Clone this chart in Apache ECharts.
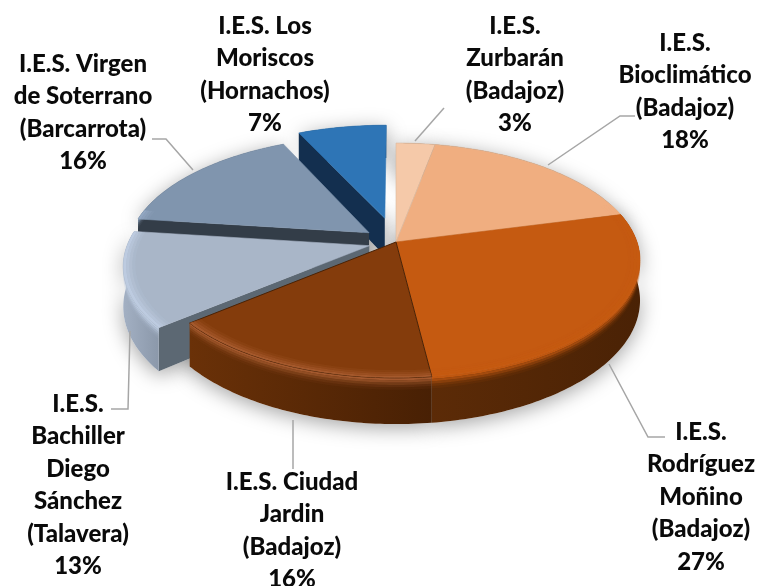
<!DOCTYPE html>
<html><head><meta charset="utf-8">
<style>html,body{margin:0;padding:0;background:#fff}#c{width:764px;height:586px}</style>
<script src="https://cdn.jsdelivr.net/npm/echarts@6/dist/echarts.min.js"></script>
</head><body><div id="c"></div>
<script>
var names = ['I.E.S.\nZurbarán\n(Badajoz)','I.E.S.\nBioclimático\n(Badajoz)','I.E.S.\nRodríguez\nMoñino\n(Badajoz)','I.E.S. Ciudad\nJardin\n(Badajoz)','I.E.S.\nBachiller\nDiego\nSánchez\n(Talavera)','I.E.S. Virgen\nde Soterrano\n(Barcarrota)','I.E.S. Los\nMoriscos\n(Hornachos)'];
var values = [3,18,27,16,13,16,7];
var explode = [0,0,0,0,0.115,0.14,0.22];
var topColors = ['#F5C9A9','#F0AE80','#C55A11','#843C0C','#A9B6C8','#8095AE','#2E75B6'];
var wallLeft = ['#8a5a33','#8a5a33','#5c2b07','#6a3108','#a3b0c3','#333D48','#132F4F'];
var wallRight = ['#7a4a28','#7a4a28','#4a2205','#482004','#8b98aa','#333D48','#132F4F'];
var faceColors = ['#8a6a50','#8a6a50','#4a2205','#4a2205','#5C6873','#333D48','#132F4F'];
var rimHighlight = ['#F5C9A9','#F0AE80','#C55A11','#A85C30','#BFCDE2','#94A9C3','#5a95cc'];
var drawOrder = [0,1,6,5,4,2,3];
var labelAnchors = [[515,10],[685,27],[701,416],[292,466],[78,388],[83,48],[265,10]];
var leaders = [
 [[415,141],[444,108]],
 [[548,165],[620,116],[635,116]],
 [[609,364],[648,437],[665,437]],
 [[293,420],[293,469]],
 [[130,331],[128,409],[111,409]],
 [[193,170],[166,139],[152,139]],
 []
];
var CX=396, CY=242, R=241, RY=114.5, K=0.157, H0=39;

var starts=[], acc=0, total=values.reduce(function(a,b){return a+b;},0);
values.forEach(function(v){starts.push(acc);acc+=v;});

function centerOf(i){
  var mid=(starts[i]+values[i]/2)/total*2*Math.PI;
  return [Math.sin(mid)*explode[i], -Math.cos(mid)*explode[i]];
}
function project(u,v,dy){
  var w=1-K*v;
  return [CX+R*u/w, CY+RY*v/w+(dy?dy/w:0)];
}
function pt(i,t,rs,dy){
  var c=centerOf(i);
  return project(c[0]+Math.sin(t)*rs, c[1]-Math.cos(t)*rs, dy);
}
function arc(i,a,b,rs,dy){
  var out=[],n=Math.max(2,Math.ceil(Math.abs(b-a)*60));
  for(var k=0;k<=n;k++){out.push(pt(i,a+(b-a)*k/n,rs,dy));}
  return out;
}
function renderSlice(params,api){
  var i=api.value(0);
  var a=starts[i]/total*2*Math.PI, b=(starts[i]+values[i])/total*2*Math.PI;
  var order=drawOrder.indexOf(i), base=10+order*10;
  var ch=[];
  var apex=pt(i,0,0,0), apexB=pt(i,0,0,H0);
  var arcT=arc(i,a,b,1,0), arcB=arc(i,a,b,1,H0);
  var grad=new echarts.graphic.LinearGradient(0,0,1,0,[{offset:0,color:wallLeft[i]},{offset:1,color:wallRight[i]}]);
  // soft cast shadow, kept beneath every slice
  ch.push({type:'polygon',z2:1+(explode[i]>0?1:0),shape:{points:[apex].concat(arcT).concat(arcB.slice().reverse()).concat([apexB])},
    style:{fill:'#fff',shadowBlur:20,shadowColor:'rgba(0,0,0,0.36)',shadowOffsetY:4}});
  // radial side face
  if(explode[i]>0){
    var s=arcT[0], sB=arcB[0];
    ch.push({type:'polygon',z2:base,shape:{points:[apex,s,sB,apexB]},style:{fill:faceColors[i]}});
  }
  // outer wall
  ch.push({type:'polygon',z2:base+1,shape:{points:arcT.concat(arcB.slice().reverse())},style:{fill:grad}});
  // bevel strip along the visible front rim: soft fade below the top edge
  var ra=Math.max(a,70*Math.PI/180), rb=Math.min(b,282*Math.PI/180);
  var topLayer=[];
  if(rb>ra){
    var col=rimHighlight[i];
    var below=[[0,2,0.95],[2,4,0.7],[4,6,0.42],[6,8,0.2],[8,10,0.08]];
    below.forEach(function(q){
      var p1=arc(i,ra,rb,1,q[0]), p2=arc(i,ra,rb,1,q[1]);
      ch.push({type:'polygon',z2:base+2,shape:{points:p1.concat(p2.reverse())},style:{fill:col,opacity:q[2]}});
    });
    var inside=[[0.988,1,0.9],[0.976,0.988,0.6],[0.964,0.976,0.35],[0.952,0.964,0.15]];
    inside.forEach(function(q){
      var p1=arc(i,ra,rb,q[0],0), p2=arc(i,ra,rb,q[1],0);
      topLayer.push({type:'polygon',z2:base+4,shape:{points:p1.concat(p2.reverse())},style:{fill:col,opacity:q[2]}});
    });
  }
  // top surface
  ch.push({type:'polygon',z2:base+3,shape:{points:[apex].concat(arcT)},
    style:{fill:topColors[i],stroke:i===3?'#4a2205':(i<2?'#d9b9a0':topColors[i]),lineWidth:i===3?1:0.6}});
  ch=ch.concat(topLayer);
  // leader line
  if(leaders[i].length){
    ch.push({type:'polyline',z2:200,shape:{points:leaders[i]},style:{fill:null,stroke:'#A6A6A6',lineWidth:1.5}});
  }
  // label
  ch.push({type:'text',z2:300,style:{text:names[i]+'\n'+values[i]+'%',x:labelAnchors[i][0],y:labelAnchors[i][1],
    align:'center',verticalAlign:'top',lineHeight:32.5,fill:'#0a0a0a',font:'900 24px Lato, Carlito, sans-serif'}});
  return {type:'group',children:ch};
}
var chart=echarts.init(document.getElementById('c'),null,{renderer:'canvas'});
chart.setOption({
  animation:false,
  backgroundColor:'#fff',
  series:[{type:'custom',coordinateSystem:'none',silent:true,renderItem:renderSlice,
    data:values.map(function(v,i){return [i,v];})}]
});
</script></body></html>
